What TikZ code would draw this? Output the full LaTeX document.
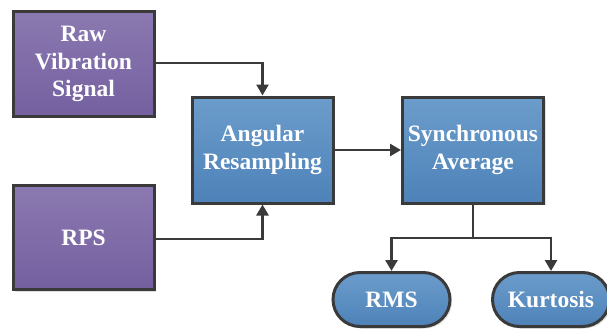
\documentclass[tikz,border=0pt]{standalone}
\usepackage{fontspec}
\setmainfont{Liberation Serif}
\usetikzlibrary{arrows.meta,shapes.misc,shadows}
\definecolor{purpT}{HTML}{8B79B1}
\definecolor{purpB}{HTML}{74609F}
\definecolor{blueT}{HTML}{6B9CCB}
\definecolor{blueB}{HTML}{4E82B8}
\definecolor{edge}{HTML}{3A3A3A}
\begin{document}
\begin{tikzpicture}[x=1pt,y=-1pt,
  base/.style={draw=edge,line width=3pt,align=center,text=white,
    font=\fontsize{23.5}{27.5}\selectfont\bfseries,inner sep=0pt,
    drop shadow={shadow xshift=2pt,shadow yshift=-2pt,fill=black!25,opacity=0.5}},
  purpbox/.style={base,top color=purpT,bottom color=purpB,minimum width=141pt,minimum height=104pt},
  bluebox/.style={base,top color=blueT,bottom color=blueB,minimum width=141pt,minimum height=106pt},
  pill/.style={base,rounded rectangle,top color=blueT,bottom color=blueB,minimum width=117pt,minimum height=54pt},
  conn/.style={draw=edge,line width=2.6pt},
  arr/.style={conn,-{Triangle[length=11pt,width=12pt]}}]
\useasboundingbox (0,0) rectangle (607,329);
\node[purpbox] (raw) at (83.5,64) {Raw\\Vibration\\Signal};
\node[purpbox] (rps) at (83.5,237.5) {RPS};
\node[bluebox] (ang) at (262.5,150) {Angular\\Resampling};
\node[bluebox] (syn) at (473,150) {Synchronous\\Average};
\node[pill] (rms) at (391.5,299.5) {RMS};
\node[pill] (kur) at (551,299.5) {Kurtosis};
\coordinate (j) at (473,238);
\draw[arr] (raw.east |- 0,63) -| (ang.north);
\draw[arr] (rps.east |- 0,239) -| (ang.south);
\draw[arr] (ang.east) -- (syn.west);
\draw[conn] (syn.south) -- (j);
\draw[arr] (j) -| (rms.north);
\draw[arr] (j) -| (kur.north);
\end{tikzpicture}
\end{document}
